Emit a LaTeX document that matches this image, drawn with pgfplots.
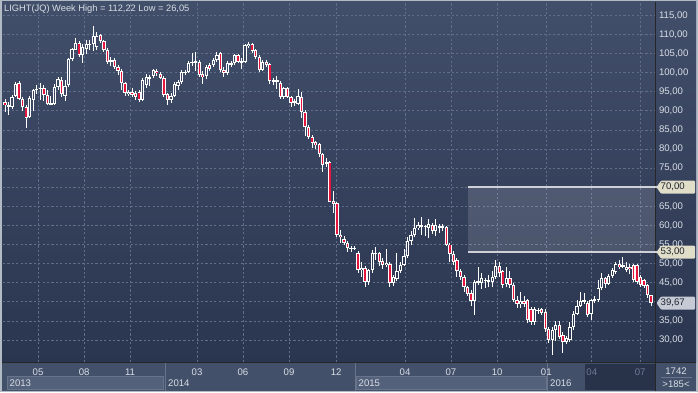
\documentclass[border=0pt]{standalone}
\usepackage{pgfplots}
\pgfplotsset{compat=1.18}
\usepackage{pgfplotstable}
\usepackage{fontspec}
\setmainfont{Liberation Sans}
\definecolor{bgtop}{RGB}{66,79,106}
\definecolor{bgbot}{RGB}{42,53,79}
\definecolor{bgupper}{RGB}{60,72,99}
\definecolor{bglower}{RGB}{47,58,85}
\definecolor{gridc}{RGB}{96,110,137}
\definecolor{candred}{RGB}{228,22,62}
\definecolor{txt}{RGB}{216,222,230}
\definecolor{panel}{RGB}{66,80,106}
\definecolor{panelbox}{RGB}{84,97,122}
\definecolor{panelline}{RGB}{104,116,140}
\definecolor{paneldark}{RGB}{40,50,72}
\definecolor{dimtxt}{RGB}{112,124,148}
\definecolor{framec}{RGB}{178,186,198}
\definecolor{badge}{RGB}{224,222,200}
\definecolor{badgeg}{RGB}{198,202,212}
\definecolor{badgetxt}{RGB}{30,36,48}
\definecolor{bandline}{RGB}{206,209,215}

\pgfplotstableread{
i o h l c
0 92.3 93.0 89.8 91.5
1 91.5 92.4 88.9 91.0
2 91.0 94.2 90.6 93.5
3 93.8 97.5 93.5 97.1
4 97.3 97.8 92.8 93.2
5 93.2 93.6 90.0 90.9
6 90.9 91.5 85.6 88.0
7 88.3 94.0 88.0 93.3
8 92.8 95.8 90.0 95.4
9 95.4 96.8 94.5 95.8
10 95.8 97.2 92.8 96.0
11 96.0 96.8 92.5 94.2
12 94.2 95.5 91.5 91.7
13 91.7 94.0 91.4 92.0
14 91.8 97.0 91.5 96.3
15 96.3 98.8 95.5 98.2
16 98.0 98.8 93.5 94.3
17 93.8 98.0 92.6 96.6
18 96.7 103.9 96.3 103.6
19 103.6 106.5 103.0 106.2
20 106.0 109.0 105.8 107.8
21 107.8 108.2 104.0 104.5
22 104.5 107.6 102.5 106.7
23 106.2 108.5 104.8 107.5
24 107.5 108.5 105.8 107.4
25 107.5 112.22 105.7 109.6
26 106.8 110.5 106.0 109.5
27 109.8 110.2 107.8 108.3
28 108.3 108.6 105.5 106.0
29 106.0 106.4 102.3 102.8
30 102.8 104.0 101.8 103.3
31 103.3 103.8 101.0 101.5
32 101.5 102.0 99.5 100.3
33 100.4 100.9 95.5 97.2
34 97.2 97.6 93.8 94.6
35 94.3 95.5 93.8 95.0
36 95.0 96.0 93.5 94.2
37 94.7 95.2 92.8 93.5
38 95.0 95.4 92.3 92.8
39 92.8 98.5 92.5 98.0
40 96.7 99.6 96.0 98.9
41 98.9 99.5 96.6 98.5
42 99.0 101.0 98.7 100.6
43 100.5 100.9 99.2 99.8
44 99.6 100.2 98.2 98.7
45 98.7 99.0 93.6 94.1
46 94.3 94.6 91.5 92.8
47 92.8 94.6 92.0 94.0
48 94.0 97.6 93.5 97.1
49 96.6 98.0 95.4 97.6
50 97.6 100.6 97.0 100.2
51 100.2 100.8 99.4 100.0
52 100.2 103.0 99.8 102.5
53 102.5 105.0 101.8 102.8
54 102.7 105.4 100.5 102.9
55 102.8 103.2 98.8 99.3
56 99.6 100.5 97.0 98.8
57 99.0 102.0 98.2 101.5
58 101.9 102.4 100.4 101.0
59 101.9 103.8 101.5 103.3
60 103.3 105.4 102.8 104.6
61 105.0 105.3 100.1 100.6
62 100.8 101.5 98.8 99.9
63 100.0 103.0 99.5 102.5
64 102.5 103.0 101.5 102.2
65 102.5 104.8 102.0 104.5
66 104.5 104.9 102.5 102.8
67 102.8 103.8 101.0 103.0
68 102.8 107.6 102.5 107.1
69 107.0 108.0 106.5 107.6
70 107.4 107.8 105.2 105.7
71 105.8 106.2 103.5 104.0
72 104.2 104.5 100.2 100.7
73 100.7 103.3 100.3 102.8
74 102.8 103.2 101.5 102.0
75 102.2 102.5 97.0 97.7
76 97.8 98.6 96.8 97.9
77 98.0 99.0 95.6 97.5
78 97.4 97.8 93.0 93.5
79 93.5 96.2 93.2 95.9
80 95.9 96.2 93.3 93.7
81 93.7 94.0 91.0 92.1
82 92.2 93.0 91.2 92.6
83 91.8 95.8 91.5 93.8
84 93.6 94.8 88.0 89.8
85 89.8 90.2 83.5 85.7
86 85.7 86.2 82.5 83.2
87 83.2 83.6 80.2 81.7
88 81.8 82.2 80.0 81.0
89 81.2 81.5 78.0 78.7
90 78.7 79.0 74.0 75.8
91 76.2 77.6 75.3 76.7
92 76.7 76.9 66.0 66.2
93 66.3 69.0 63.2 65.7
94 65.8 66.2 57.0 57.4
95 57.6 58.8 55.5 57.0
96 56.5 57.2 54.8 55.4
97 55.4 56.0 53.0 54.0
98 54.0 54.5 53.0 54.0
99 54.0 54.6 53.5 54.1
100 52.9 53.2 47.5 48.3
101 48.3 50.5 46.5 48.9
102 48.9 49.5 44.0 45.3
103 45.3 48.6 44.5 48.2
104 48.2 53.5 47.5 52.7
105 52.8 54.3 51.0 52.5
106 52.7 53.0 49.5 50.3
107 50.8 51.5 48.5 49.6
108 49.6 53.8 49.0 50.2
109 49.9 50.3 44.0 45.0
110 45.0 47.0 44.2 46.6
111 46.0 52.7 45.5 48.0
112 48.0 50.5 47.5 49.7
113 49.7 53.7 49.3 51.9
114 51.9 57.0 51.5 56.0
115 55.8 58.5 55.0 57.6
116 57.6 62.0 57.0 59.3
117 59.3 60.8 58.8 60.0
118 59.8 62.1 57.6 60.0
119 59.8 60.2 57.2 59.7
120 59.4 61.6 56.6 60.3
121 60.1 60.6 57.8 58.6
122 58.6 61.8 57.2 60.0
123 59.9 60.3 58.0 59.4
124 59.5 60.4 58.5 59.7
125 59.6 59.9 54.5 55.0
126 55.0 55.4 50.5 52.6
127 52.6 53.4 49.6 50.5
128 51.0 51.4 46.5 48.0
129 48.0 48.5 45.8 46.6
130 46.6 47.0 42.5 43.8
131 43.8 44.2 41.5 42.0
132 42.4 43.0 39.0 40.1
133 40.1 45.8 36.6 45.3
134 45.1 49.2 44.5 45.4
135 45.0 47.5 43.3 46.3
136 45.8 46.3 43.5 45.4
137 45.3 47.0 43.8 45.8
138 45.3 48.0 44.0 46.6
139 46.6 50.9 46.0 49.3
140 49.3 50.3 46.5 47.6
141 48.0 48.4 43.5 44.5
142 44.6 49.0 43.9 46.2
143 46.2 48.0 43.5 44.4
144 44.5 45.0 40.0 40.6
145 40.6 41.5 38.3 39.3
146 39.3 42.5 38.5 40.3
147 40.3 41.5 38.7 39.4
148 40.4 40.8 34.5 35.2
149 38.2 38.6 33.8 34.6
150 34.7 38.7 34.0 38.2
151 37.9 38.5 36.9 37.6
152 38.0 38.4 36.6 37.0
153 37.3 38.2 32.2 32.9
154 33.0 33.5 29.2 29.9
155 30.0 33.5 26.05 32.6
156 32.5 35.0 29.8 33.9
157 33.9 35.0 30.3 30.9
158 31.3 32.0 26.5 29.6
159 29.6 31.0 29.0 30.5
160 30.0 34.6 29.6 33.4
161 33.4 37.6 32.6 36.9
162 36.9 40.5 36.5 39.0
163 39.0 42.6 38.6 40.2
164 40.2 42.4 39.5 40.3
165 39.6 40.2 36.0 36.6
166 36.8 40.8 35.2 40.4
167 40.4 41.5 39.6 40.7
168 40.4 45.7 40.0 43.5
169 43.5 47.5 43.0 46.1
170 46.1 46.6 43.6 44.7
171 44.6 47.3 44.3 46.7
172 46.7 48.8 46.3 48.3
173 47.9 50.4 47.4 49.8
174 49.8 51.0 48.6 49.2
175 49.3 51.8 48.8 49.6
176 48.3 50.5 47.8 49.2
177 49.2 49.8 47.4 48.6
178 49.6 50.0 45.2 45.7
179 49.6 50.0 44.6 45.2
180 46.6 47.0 43.8 44.5
181 45.7 46.0 43.5 44.1
182 44.3 44.6 41.0 41.7
183 41.7 41.9 38.9 39.67
}\candles

\begin{document}
\begin{tikzpicture}
\path[use as bounding box] (0pt,0pt) rectangle (698pt,392pt);
\begin{scope}[x=1pt,y=1pt]
\fill[framec] (0,0) rectangle (698,392);
\shade[top color=bgtop, bottom color=bgbot] (2,30) rectangle (696,390);
\fill[panel] (2,1.5) rectangle (696,29.5);
\fill[panelbox] (7,2.5) rectangle (163,15.5);
\draw[panelline, line width=0.6pt] (7,2.5) rectangle (163,15.5);
\fill[panelbox] (356,2.5) rectangle (546,15.5);
\draw[panelline, line width=0.6pt] (356,2.5) rectangle (546,15.5);
\fill[paneldark] (585,2.5) rectangle (654.5,28.5);
\draw[panelline, line width=0.8pt] (165,1.5) -- (165,29.5);
\draw[panelline, line width=0.8pt] (355,1.5) -- (355,29.5);
\draw[panelline, line width=0.8pt] (547,1.5) -- (547,29.5);
\fill[panel] (655.5,1.5) rectangle (696,29.5);
\end{scope}
\begin{axis}[
  at={(3pt,30pt)}, anchor=south west,
  scale only axis, width=652pt, height=360pt,
  xmin=-0.57, xmax=184.1, ymin=24.24, ymax=118.48,
  axis line style={draw=none},
  major tick length=0pt,
  xtick={9.35,22.4,35.4,54.4,67.4,80.45,93.8,113.3,126.3,139.4,153.3,166.2,179.9},
  xticklabels={05,08,11,03,06,09,12,04,07,10,01,{\textcolor{dimtxt}{04}},{\textcolor{dimtxt}{07}}},
  xticklabel style={font=\fontsize{9.6}{10}\selectfont, text=txt, anchor=center, yshift=-10pt},
  ytick={30,35,45,50,55,60,65,75,80,85,90,95,100,105,110,115},
  extra y ticks={40,70},
  extra y tick labels={},
  yticklabel pos=right,
  scaled y ticks=false,
  /pgf/number format/assume math mode=true,
  yticklabel style={font=\fontsize{9.6}{10}\selectfont, text=txt, anchor=west, xshift=0.5pt,
    /pgf/number format/.cd, fixed, fixed zerofill, precision=2, use comma, 1000 sep={}},
  grid=major,
  major grid style={gridc, dash pattern=on 2.2pt off 2.2pt, line width=0.7pt},
  clip=true,
]
\fill[white, opacity=0.13] (axis cs:131.2,53) rectangle (axis cs:184.1,70);
\coordinate (A70) at (axis cs:131.2,70);
\coordinate (B70) at (axis cs:184.1,70);
\coordinate (A53) at (axis cs:131.2,53);
\coordinate (B53) at (axis cs:184.1,53);
\coordinate (B39) at (axis cs:184.1,39.67);
% wicks
\addplot[draw=none, mark=none, forget plot,
  error bars/.cd, y dir=both, y explicit, error mark=none,
  error bar style={draw=white, solid, line width=0.9pt}]
  table[x=i, y expr={(\thisrow{h}+\thisrow{l})/2}, y error expr={(\thisrow{h}-\thisrow{l})/2}] {\candles};
% bodies outline
\addplot[draw=none, mark=none, forget plot,
  error bars/.cd, y dir=both, y explicit, error mark=none,
  error bar style={draw=white, solid, line width=3.3pt}]
  table[x=i, y expr={(\thisrow{o}+\thisrow{c})/2}, y error expr={max(abs(\thisrow{o}-\thisrow{c})/2,0.16)}] {\candles};
% down bodies (red)
\addplot[draw=none, mark=none, forget plot,
  restrict expr to domain={\thisrow{o}-\thisrow{c}}{0.55:1000},
  error bars/.cd, y dir=both, y explicit, error mark=none,
  error bar style={draw=candred, solid, line width=1.4pt}]
  table[x=i, y expr={(\thisrow{o}+\thisrow{c})/2}, y error expr={abs(\thisrow{o}-\thisrow{c})/2-0.26}] {\candles};
% up bodies (hollow), upper part
\addplot[draw=none, mark=none, forget plot,
  restrict expr to domain={\thisrow{c}-\thisrow{o}}{0.55:1000},
  restrict y to domain=72:200,
  error bars/.cd, y dir=both, y explicit, error mark=none,
  error bar style={draw=bgupper, solid, line width=1.4pt}]
  table[x=i, y expr={(\thisrow{o}+\thisrow{c})/2}, y error expr={abs(\thisrow{o}-\thisrow{c})/2-0.26}] {\candles};
% up bodies (hollow), lower part
\addplot[draw=none, mark=none, forget plot,
  restrict expr to domain={\thisrow{c}-\thisrow{o}}{0.55:1000},
  restrict y to domain=0:72,
  error bars/.cd, y dir=both, y explicit, error mark=none,
  error bar style={draw=bglower, solid, line width=1.4pt}]
  table[x=i, y expr={(\thisrow{o}+\thisrow{c})/2}, y error expr={abs(\thisrow{o}-\thisrow{c})/2-0.26}] {\candles};
\end{axis}
\begin{scope}[x=1pt,y=1pt]
\draw[black!85, line width=1pt] (2,29.8) -- (696,29.8);
\draw[black!85, line width=1pt] (655,1.5) -- (655,390);
\draw[bandline, line width=1.4pt] (A70) -- ([xshift=3pt]B70);
\draw[bandline, line width=1.4pt] (A53) -- ([xshift=3pt]B53);
\foreach \c/\lab/\col in {B70/{70,00}/badge, B53/{53,00}/badge, B39/{39,67}/badgeg}{
  \fill[\col, rounded corners=1pt] ([xshift=1.5pt]\c) -- ([xshift=6pt,yshift=6.5pt]\c) -- ([xshift=40pt,yshift=6.5pt]\c) -- ([xshift=40pt,yshift=-6.5pt]\c) -- ([xshift=6pt,yshift=-6.5pt]\c) -- cycle;
  \node[anchor=west, inner sep=0pt, text=badgetxt, font=\fontsize{9.6}{10}\selectfont] at ([xshift=5.5pt]\c) {\lab};
}
\node[anchor=west, inner sep=0pt, text=txt, font=\fontsize{9.3}{10}\selectfont] at (4,383) {LIGHT(JQ) Week High = 112,22 Low = 26,05};
\node[anchor=west, inner sep=0pt, text=txt, font=\fontsize{9.6}{10}\selectfont] at (9.5,8.5) {2013};
\node[anchor=west, inner sep=0pt, text=txt, font=\fontsize{9.6}{10}\selectfont] at (168,8.5) {2014};
\node[anchor=west, inner sep=0pt, text=txt, font=\fontsize{9.6}{10}\selectfont] at (358.5,8.5) {2015};
\node[anchor=west, inner sep=0pt, text=txt, font=\fontsize{9.6}{10}\selectfont] at (550,8.5) {2016};
\node[text=txt, inner sep=0pt, font=\fontsize{9.6}{10}\selectfont] at (676,20.5) {1742};
\draw[panelline, line width=0.6pt] (661,14.5) -- (692,14.5);
\node[text=txt, inner sep=0pt, font=\fontsize{9.6}{10}\selectfont] at (676,8) {>185<};
\end{scope}
\end{tikzpicture}
\end{document}
